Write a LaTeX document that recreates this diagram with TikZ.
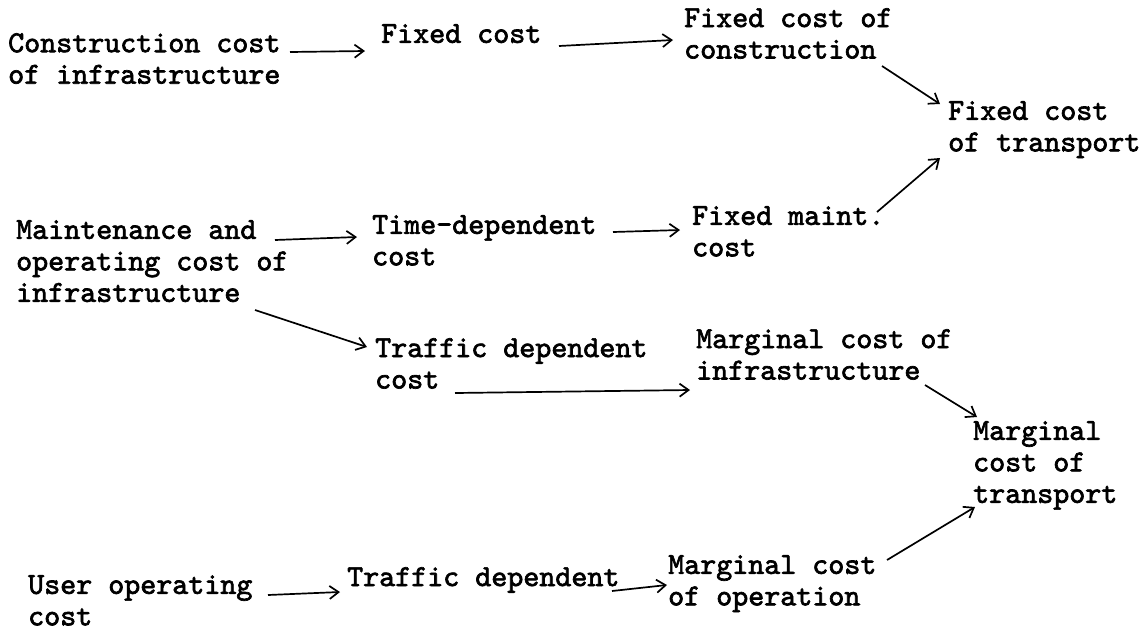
\documentclass[tikz,border=0pt]{standalone}
\usepackage{fontspec}
\newfontfamily\twfont{lmmono10-regular.otf}[FakeBold=2.2]
\usetikzlibrary{arrows.meta}
\begin{document}
\begin{tikzpicture}[x=1pt,y=-1pt,
  lbl/.style={anchor=north west, align=left, inner sep=0pt,
    font=\twfont\fontsize{30.5}{31.5}\selectfont},
  arr/.style={-{Straight Barb[length=9pt,width=13pt]}, line width=1.7pt}]
\useasboundingbox[fill=white] (0,0) rectangle (1145,630);
\node[lbl] (A) at (8,33) {Construction cost\\of infrastructure};
\node[lbl] (B) at (381,24) {Fixed cost};
\node[lbl] (C) at (684,8) {Fixed cost of\\construction};
\node[lbl] (D) at (948,101) {Fixed cost\\of transport};
\node[lbl] (E) at (16,220) {Maintenance and\\operating cost of\\infrastructure};
\node[lbl] (F) at (372,215) {Time-dependent\\cost};
\node[lbl] (G) at (692,206) {Fixed maint.\\cost};
\node[lbl] (H) at (375,338) {Traffic dependent\\cost};
\node[lbl] (I) at (696,329) {Marginal cost of\\infrastructure};
\node[lbl] (J) at (973,421) {Marginal\\cost of\\transport};
\node[lbl] (K) at (28,575) {User operating\\cost};
\node[lbl] (L) at (347,567) {Traffic dependent};
\node[lbl] (M) at (668,555) {Marginal cost\\of operation};
\draw[arr] ([shift={(282,19)}]A.north west) -- ([shift={(-16,27)}]B.north west);
\draw[arr] ([shift={(178,22)}]B.north west) -- ([shift={(-11,32)}]C.north west);
\draw[arr] ([shift={(198,58)}]C.north west) -- ([shift={(-8,3)}]D.north west);
\draw[arr] ([shift={(185,6)}]G.north west) -- ([shift={(-8,57)}]D.north west);
\draw[arr] ([shift={(259,20)}]E.north west) -- ([shift={(-15,22)}]F.north west);
\draw[arr] ([shift={(241,17)}]F.north west) -- ([shift={(-12,24)}]G.north west);
\draw[arr] ([shift={(239,90)}]E.north west) -- ([shift={(-8,9)}]H.north west);
\draw[arr] ([shift={(80,55)}]H.north west) -- ([shift={(-6,61)}]I.north west);
\draw[arr] ([shift={(229,56)}]I.north west) -- ([shift={(4,-4)}]J.north west);
\draw[arr] ([shift={(219,5)}]M.north west) -- ([shift={(2,86)}]J.north west);
\draw[arr] ([shift={(240,20)}]K.north west) -- ([shift={(-7,25)}]L.north west);
\draw[arr] ([shift={(265,24)}]L.north west) -- ([shift={(-1,30)}]M.north west);
\end{tikzpicture}
\end{document}
